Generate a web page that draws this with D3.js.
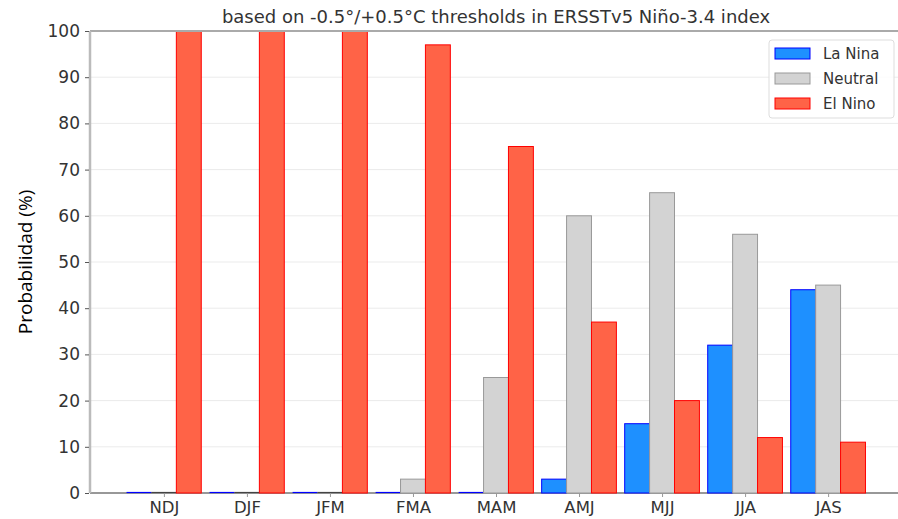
<!DOCTYPE html>
<html><head><meta charset="utf-8">
<script src="https://cdn.jsdelivr.net/npm/d3@7"></script>
<style>body{margin:0;background:#fff;} svg{display:block;}</style>
</head><body>
<script>
const categories = ["NDJ","DJF","JFM","FMA","MAM","AMJ","MJJ","JJA","JAS"];
const laNina  = [0,0,0,0,0,3,15,32,44];
const neutral = [0,0,0,3,25,60,65,56,45];
const elNino  = [100,100,100,97,75,37,20,12,11];
const yTicks = [0,10,20,30,40,50,60,70,80,90,100];
const seriesNames = ["La Nina","Neutral","El Nino"];
const fills = ["#1e90ff","#d3d3d3","#ff6347"];
const strokes = ["#0000ff","#999999","#ff0000"];
const title = "based on -0.5°/+0.5°C thresholds in ERSSTv5 Niño-3.4 index";
const yLabel = "Probabilidad (%)";

(function () {
const W = 898, H = 519;
const mL = 90, mR = 902, mT = 31, mB = 493;
const svg = d3.select("body").append("svg").attr("width", W).attr("height", H);
const font = "DejaVu Sans, sans-serif";

const x = d3.scaleLinear().domain([-0.89, 8.89]).range([mL, mR]);
const y = d3.scaleLinear().domain([0, 100]).range([mB, mT]);
const bw = x(0.3) - x(0);

// grid
svg.append("g").selectAll("line").data(yTicks.filter(d => d > 0 && d < 100)).join("line")
  .attr("x1", mL).attr("x2", W).attr("y1", d => y(d)).attr("y2", d => y(d))
  .attr("stroke", "#ebebeb").attr("stroke-width", 1);

// bottom spine first so zero bars show above
svg.append("line").attr("x1", mL).attr("x2", W).attr("y1", mB).attr("y2", mB)
  .attr("stroke", "#333333").attr("stroke-width", 1.2);

// bars
const series = [laNina, neutral, elNino];
series.forEach((vals, si) => {
  const off = (si - 1) * 0.3;
  const g = svg.append("g");
  g.selectAll("rect").data(vals.map((v, i) => ({v, i})).filter(d => d.v > 0)).join("rect")
    .attr("x", d => x(d.i + off) - bw / 2)
    .attr("width", bw)
    .attr("y", d => y(d.v))
    .attr("height", d => y(0) - y(d.v))
    .attr("fill", fills[si])
    .attr("stroke", strokes[si]).attr("stroke-width", 1);
  g.selectAll("line").data(vals.map((v, i) => ({v, i})).filter(d => d.v === 0)).join("line")
    .attr("x1", d => x(d.i + off) - bw / 2)
    .attr("x2", d => x(d.i + off) + bw / 2)
    .attr("y1", y(0) - 0.5).attr("y2", y(0) - 0.5)
    .attr("stroke", si === 1 ? "#444" : strokes[si]).attr("stroke-width", 1.2);
});

svg.append("line").attr("x1", mL).attr("x2", W).attr("y1", mT).attr("y2", mT)
  .attr("stroke", "#aaaaaa").attr("stroke-width", 2);
svg.append("line").attr("x1", mL).attr("x2", mL).attr("y1", mT).attr("y2", mB)
  .attr("stroke", "#bbbbbb").attr("stroke-width", 2.5);

// y axis
const yAxis = d3.axisLeft(y).tickValues(yTicks).tickSize(4).tickPadding(5);
const gy = svg.append("g").attr("transform", `translate(${mL - 1},0)`).call(yAxis);
gy.select(".domain").remove();
gy.selectAll("line").attr("stroke", "#555");
gy.selectAll("text").attr("font-family", font).attr("font-size", 17).attr("fill", "#333");

// x axis
const xAxis = d3.axisBottom(x).tickValues(d3.range(categories.length)).tickFormat(i => categories[i]).tickSize(4).tickPadding(4);
const gx = svg.append("g").attr("transform", `translate(0,${mB})`).call(xAxis);
gx.select(".domain").remove();
gx.selectAll("line").attr("stroke", "#999");
gx.selectAll("text").attr("font-family", font).attr("font-size", 16.5).attr("fill", "#333");

// title
svg.append("text").attr("x", 496).attr("y", 23).attr("text-anchor", "middle")
  .attr("font-family", font).attr("font-size", 18).attr("fill", "#333").text(title);

// y label
svg.append("text").attr("transform", `translate(32,262) rotate(-90)`)
  .attr("text-anchor", "middle").attr("font-family", "Open Sans, sans-serif")
  .attr("font-size", 19).attr("fill", "#000").text(yLabel);

// legend
const lg = svg.append("g");
lg.append("rect").attr("x", 769).attr("y", 40).attr("width", 125).attr("height", 78).attr("rx", 3)
  .attr("fill", "#fff").attr("fill-opacity", 0.85).attr("stroke", "#dddddd");
seriesNames.forEach((n, i) => {
  const yy = 48 + i * 25;
  lg.append("rect").attr("x", 775).attr("y", yy).attr("width", 35).attr("height", 11)
    .attr("fill", fills[i]).attr("stroke", strokes[i]).attr("stroke-width", 1);
  lg.append("text").attr("x", 823).attr("y", yy + 11).attr("font-family", font)
    .attr("font-size", 15).attr("fill", "#333").text(n);
});
})();
</script>
</body></html>
